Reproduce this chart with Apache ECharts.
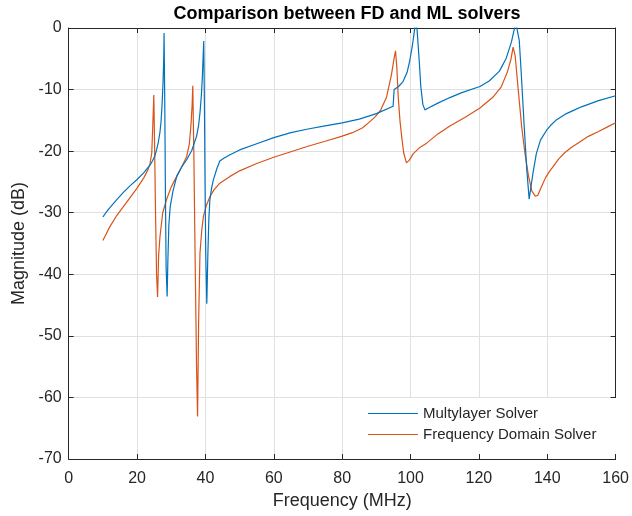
<!DOCTYPE html>
<html>
<head>
<meta charset="utf-8">
<script src="https://cdn.jsdelivr.net/npm/echarts@6/dist/echarts.min.js"></script>
<style>
  html, body { margin: 0; padding: 0; background: #fff; }
  #chart { width: 632px; height: 516px; }
</style>
</head>
<body>
<div id="chart"></div>
<script>
// Multilayer (ML) solver response: frequency (MHz) and magnitude (dB)
const freqML = [10, 11, 12, 14, 16, 18, 20, 22, 24, 24.5, 25.2, 25.7, 26.2, 26.7, 27.0, 27.3, 27.6, 27.8, 27.9,
  28.1, 28.3, 28.5, 28.8, 29.0, 29.3, 29.7, 30.5, 31.6, 33, 34.5, 36, 37.4, 38.0, 38.4, 38.8, 39.1, 39.3, 39.5,
  39.7, 39.9, 40.1, 40.4, 40.7, 41.0, 41.3, 41.8, 42.3, 43.3, 44.2, 45.5, 47.2, 50, 55, 60, 65, 70, 75, 80, 85, 90, 94.9,
  95.2, 96.5, 97.8, 99.0, 99.8, 100.5, 101.0, 101.4, 101.7, 102.0, 102.5, 103.0, 103.6, 104.2, 105.5, 108, 111.5,
  115, 120.3, 123, 126, 128, 129.5, 130.3, 130.8, 131.3, 131.8, 132.4, 133.2, 134.0, 134.7, 135.3, 135.9, 136.8,
  138, 139.8, 141, 142.5, 145.6, 148, 150, 155, 160];
const magML = [-30.7, -29.9, -29.2, -27.9, -26.7, -25.6, -24.6, -23.5, -22.1, -21.6, -20.8, -19.8, -18.6, -16.9, -15.3, -12.6, -8.8, -5.0, -0.8,
  -12, -27, -39, -43.6, -38, -32, -29.0, -26.5, -24.1, -22.6, -21.4, -19.9, -17.6, -15.8, -13.8, -11.0, -8.0, -5.0, -2.1,
  -12, -26, -37, -44.8, -37, -31, -27.9, -26.0, -24.7, -22.9, -21.6, -21.1, -20.6, -19.8, -18.8, -17.8, -17.0, -16.4, -15.9, -15.4, -14.8, -13.9, -12.7,
  -10.0, -9.5, -8.7, -7.2, -5.2, -3.0, -1.0, 0.8, 1.2, -1.0, -5.0, -9.5, -12.4, -13.3, -12.9, -12.2, -11.3,
  -10.5, -9.5, -8.6, -7.0, -4.9, -2.3, -0.3, 0.8, 0.5, -2.0, -7.5, -15.5, -23.0, -27.8, -25.5, -23.3, -20.4,
  -18.2, -16.6, -15.8, -15.0, -13.9, -13.3, -12.8, -11.8, -11.0];

// Frequency Domain (FD) solver response
const freqFD = [10, 11, 12, 14, 16, 18, 20, 22, 23.2, 23.8, 24.3, 24.6, 24.9, 25.1, 25.4, 25.7, 26.0, 26.3, 26.7,
  27.5, 28.6, 30, 31.6, 33, 34.5, 35.3, 35.8, 36.1, 36.3, 36.6, 37.0, 37.4, 37.7, 38.0, 38.4, 38.9, 39.4, 40.3,
  41.3, 42.5, 44.2, 47.2, 50, 55, 60, 65, 70, 75, 79.8, 83, 86, 88.1, 89.7, 91.2, 93.0, 94.4, 95.2, 95.6, 96.0,
  96.4, 96.9, 97.4, 98.0, 98.8, 99.6, 100.8, 102.5, 104.7, 108, 111.5, 116, 120.3, 124, 126.5, 128.3, 129.4,
  130, 130.6, 131.5, 132.5, 133.5, 134.5, 135.5, 136.5, 137.2, 138.3, 139.5, 140.5, 141.7, 143.3, 145, 147, 149.5,
  152, 155, 157.5, 160];
const magFD = [-34.5, -33.4, -32.3, -30.5, -29.0, -27.5, -26.0, -24.3, -23.0, -22.0, -20.3, -15.8, -10.9, -18, -30, -40, -43.7, -37, -33.9,
  -30.0, -27.9, -25.8, -24.1, -22.6, -20.9, -18.8, -15.5, -12.5, -9.4, -20, -38, -55, -63.1, -48, -36.6, -33.0, -30.6, -28.8,
  -27.4, -26.3, -25.2, -24.1, -23.2, -22.0, -21.0, -20.1, -19.2, -18.4, -17.6, -17.0, -16.2, -15.2, -14.4, -13.4, -11.2, -7.6, -4.9, -3.7, -6.5,
  -11.2, -15.0, -17.6, -20.3, -21.9, -21.5, -20.4, -19.5, -18.7, -17.2, -15.9, -14.5, -13.0, -11.3, -9.6, -7.2, -5.0,
  -3.1, -4.5, -10.0, -16.0, -20.5, -24.0, -26.5, -27.3, -27.2, -25.8, -24.3, -23.4, -22.5, -21.3, -20.3, -19.4, -18.5,
  -17.6, -16.8, -16.1, -15.4];

const xTicks = { min: 0, max: 160, interval: 20 };
const yTicks = { min: -70, max: 0, interval: 10 };

const seriesNames = ['Multylayer Solver', 'Frequency Domain Solver'];
const seriesColors = ['#0072BD', '#D95319'];

function pairs(xs, ys) {
  return xs.map((x, i) => [x, ys[i]]);
}

const axisInk = '#262626';
const font = 'Liberation Sans, Arial, Helvetica, sans-serif';

const chart = echarts.init(document.getElementById('chart'), null, { renderer: 'canvas' });

// Mirrored axes on top and right close the box, with inward ticks only
const boxAxis = {
  axisLine: { show: true, onZero: false, lineStyle: { color: axisInk, width: 1 } },
  axisTick: { show: true, inside: true, length: 5, lineStyle: { color: axisInk } },
  axisLabel: { show: false },
  splitLine: { show: false }
};

chart.setOption({
  backgroundColor: '#fff',
  animation: false,
  title: {
    text: 'Comparison between FD and ML solvers',
    left: 342,
    textAlign: 'center',
    top: 0,
    textStyle: { fontFamily: font, fontSize: 18, fontWeight: 'bold', color: '#000' }
  },
  grid: { left: 68.7, right: 16, top: 28, bottom: 57, containLabel: false },
  legend: {
    data: seriesNames,
    orient: 'vertical',
    left: 355,
    top: 398,
    padding: [8, 30, 12, 13],
    itemGap: 6,
    itemWidth: 50,
    itemHeight: 1.2,
    icon: 'rect',
    backgroundColor: '#fff',
    borderWidth: 0,
    textStyle: { fontFamily: font, fontSize: 15, color: axisInk }
  },
  xAxis: [
    {
      type: 'value',
      min: xTicks.min, max: xTicks.max, interval: xTicks.interval,
      position: 'bottom',
      name: 'Frequency (MHz)',
      nameLocation: 'middle',
      nameGap: 31,
      nameTextStyle: { fontFamily: font, fontSize: 18, color: axisInk },
      axisLine: { show: true, onZero: false, lineStyle: { color: axisInk, width: 1 } },
      axisTick: { show: true, inside: true, length: 5, lineStyle: { color: axisInk } },
      axisLabel: { margin: 12, fontFamily: font, fontSize: 16, color: axisInk },
      splitLine: { show: true, lineStyle: { color: '#e0e0e0', width: 1 } }
    },
    Object.assign({ type: 'value', min: xTicks.min, max: xTicks.max, interval: xTicks.interval, position: 'top' }, boxAxis)
  ],
  yAxis: [
    {
      type: 'value',
      min: yTicks.min, max: yTicks.max, interval: yTicks.interval,
      position: 'left',
      name: 'Magnitude (dB)',
      nameLocation: 'middle',
      nameGap: 38,
      nameTextStyle: { fontFamily: font, fontSize: 18, color: axisInk },
      axisLine: { show: true, onZero: false, lineStyle: { color: axisInk, width: 1 } },
      axisTick: { show: true, inside: true, length: 5, lineStyle: { color: axisInk } },
      axisLabel: { margin: 7, fontFamily: font, fontSize: 16, color: axisInk },
      splitLine: { show: true, lineStyle: { color: '#e0e0e0', width: 1 } }
    },
    Object.assign({ type: 'value', min: yTicks.min, max: yTicks.max, interval: yTicks.interval, position: 'right' }, boxAxis)
  ],
  series: [
    {
      name: seriesNames[0],
      type: 'line',
      data: pairs(freqML, magML),
      showSymbol: false,
      clip: true,
      color: seriesColors[0],
      lineStyle: { width: 1.2, color: seriesColors[0] },
      z: 3
    },
    {
      name: seriesNames[1],
      type: 'line',
      data: pairs(freqFD, magFD),
      showSymbol: false,
      clip: true,
      color: seriesColors[1],
      lineStyle: { width: 1.2, color: seriesColors[1] },
      z: 2
    }
  ]
});
</script>
</body>
</html>
